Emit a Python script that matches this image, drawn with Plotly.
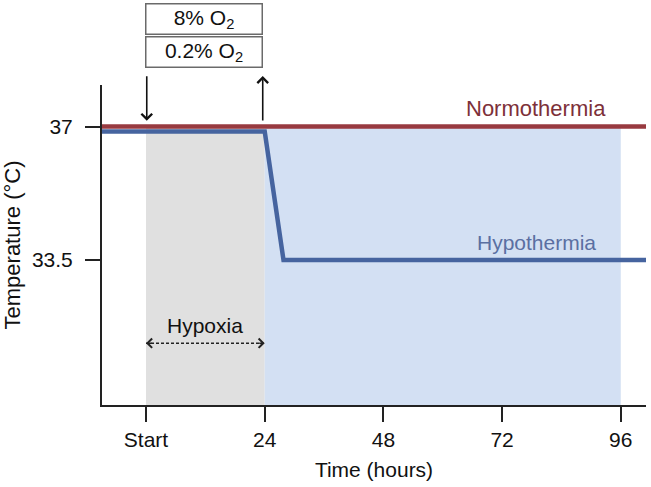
import plotly.graph_objects as go

# ---- data ----
x_range = [-8.9, 101.1]
y_range = [29.7, 38.09]
x_tickvals = [0, 24, 48, 72, 96]
x_ticktext = ["Start", "24", "48", "72", "96"]
y_tickvals = [33.5, 37]
y_ticktext = ["33.5", "37"]

norm_time = [-8.9, 101.1]
norm_temp = [37.0, 37.0]
hypo_time = [-8.9, 24.0, 27.8, 101.1]
hypo_temp = [36.87, 36.87, 33.5, 33.5]

hypoxia_period = [0, 24]
cooling_period = [24, 96]
shade_top = 37.0
hypoxia_arrow_y = 31.32
hypoxia_label_y = 31.78

FONT = "Liberation Sans, Arial, sans-serif"
RED = "#983a40"
BLUE = "#46649f"
INK = "#111111"

fig = go.Figure()

# shaded regions
fig.add_shape(type="rect", xref="x", yref="y",
              x0=hypoxia_period[0], x1=hypoxia_period[1], y0=y_range[0], y1=shade_top,
              fillcolor="#e0e0e0", line_width=0, layer="below")
fig.add_shape(type="rect", xref="x", yref="y",
              x0=cooling_period[0], x1=cooling_period[1], y0=y_range[0], y1=shade_top,
              fillcolor="#d3e0f3", line_width=0, layer="below")

fig.add_trace(go.Scatter(x=hypo_time, y=hypo_temp, mode="lines",
                         line=dict(color=BLUE, width=4.5), hoverinfo="skip", showlegend=False))
fig.add_trace(go.Scatter(x=norm_time, y=norm_temp, mode="lines",
                         line=dict(color=RED, width=4.5), hoverinfo="skip", showlegend=False))

# dashed line of the hypoxia double arrow
fig.add_trace(go.Scatter(x=hypoxia_period, y=[hypoxia_arrow_y, hypoxia_arrow_y],
                         mode="lines",
                         line=dict(color="#222222", width=1.5, dash="3px,2px"),
                         hoverinfo="skip", showlegend=False))

annotations = [
    dict(text="Hypoxia", x=12, y=hypoxia_label_y, xref="x", yref="y", showarrow=False,
         font=dict(family=FONT, size=21, color=INK)),
    dict(text="Normothermia", x=78.8, y=37.0, xref="x", yref="y", yshift=18, showarrow=False,
         font=dict(family=FONT, size=22, color="#7d3039")),
    dict(text="Hypothermia", x=79.0, y=33.5, xref="x", yref="y", yshift=18, showarrow=False,
         font=dict(family=FONT, size=21, color="#5a6fa2")),
    dict(text="8% O<sub>2</sub>", x=11.8, y=1.206, xref="x", yref="paper", yanchor="middle",
         showarrow=False,
         width=113, height=27, borderpad=1, bordercolor="#6a6a6a", borderwidth=1.5,
         bgcolor="white", font=dict(family=FONT, size=21, color=INK)),
    dict(text="0.2% O<sub>2</sub>", x=11.8, y=1.1016, xref="x", yref="paper", yanchor="middle",
         showarrow=False,
         width=113, height=27, borderpad=1, bordercolor="#6a6a6a", borderwidth=1.5,
         bgcolor="white", font=dict(family=FONT, size=21, color=INK)),
    # down arrow (start of hypoxia)
    dict(text="", x=0.15, y=37.15, xref="x", yref="y", showarrow=True,
         ax=0, ay=-46, arrowhead=4, arrowsize=1.3, arrowwidth=1.6, arrowcolor=INK),
    # up arrow (end of hypoxia)
    dict(text="", x=23.6, y=1.028, xref="x", yref="paper", showarrow=True,
         ax=0, ay=46, arrowhead=4, arrowsize=1.3, arrowwidth=1.6, arrowcolor=INK),
    # heads of the dashed double arrow
    dict(text="", x=hypoxia_period[0], y=hypoxia_arrow_y, xref="x", yref="y", showarrow=True,
         ax=7, ay=0, arrowhead=4, arrowsize=1.2, arrowwidth=1.5, arrowcolor="#222222"),
    dict(text="", x=hypoxia_period[1], y=hypoxia_arrow_y, xref="x", yref="y", showarrow=True,
         ax=-7, ay=0, arrowhead=4, arrowsize=1.2, arrowwidth=1.5, arrowcolor="#222222"),
]

fig.update_layout(
    width=651, height=487,
    margin=dict(l=102, r=5, t=85, b=82, autoexpand=False),
    plot_bgcolor="white", paper_bgcolor="white",
    font=dict(family=FONT, size=21, color=INK),
    annotations=annotations,
    showlegend=False,
)
fig.update_xaxes(range=x_range, tickvals=x_tickvals, ticktext=x_ticktext,
                 showline=True, linecolor="#222222", linewidth=2,
                 ticks="outside", ticklen=15, tickwidth=2, tickcolor="#222222",
                 showgrid=False, zeroline=False, automargin=False,
                 title=dict(text="Time (hours)", font=dict(size=21), standoff=12),
                 tickfont=dict(size=21))
fig.update_yaxes(range=y_range, tickvals=y_tickvals, ticktext=y_ticktext,
                 showline=True, linecolor="#222222", linewidth=2,
                 ticks="outside", ticklen=15, tickwidth=2, tickcolor="#222222",
                 ticklabelposition="outside", ticklabelstandoff=8,
                 showgrid=False, zeroline=False, automargin=False,
                 title=dict(text="Temperature (°C)", font=dict(size=22), standoff=6),
                 tickfont=dict(size=21))

# remove the page's default body margin so the figure fills the window exactly
fig.write_html("out.html", config={"displayModeBar": False},
               post_script="document.body.style.margin='0';")
